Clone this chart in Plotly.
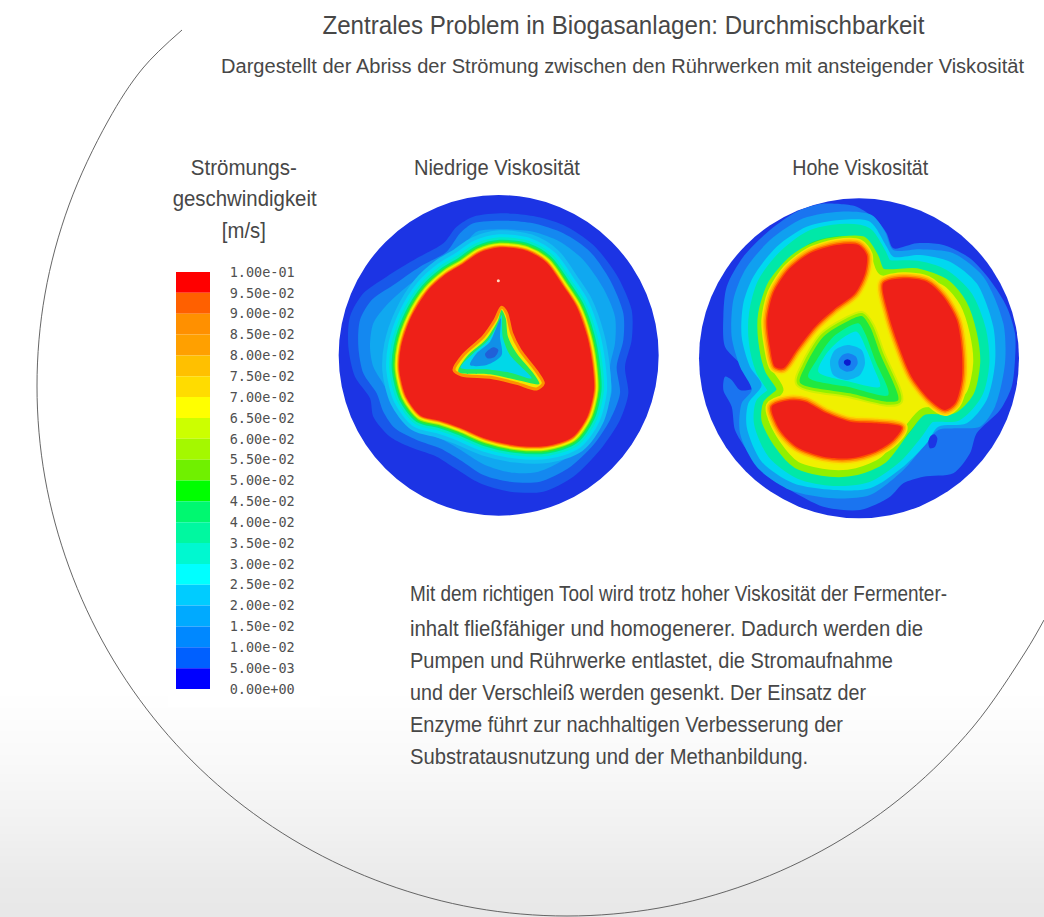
import json
import plotly.graph_objects as go

W, H = 1044, 917

# ---------- page texts ----------
TITLE = "Zentrales Problem in Biogasanlagen: Durchmischbarkeit"
SUBTITLE = "Dargestellt der Abriss der Strömung zwischen den Rührwerken mit ansteigender Viskosität"
HEAD_LOW = "Niedrige Viskosität"
HEAD_HIGH = "Hohe Viskosität"
LEGEND_HEAD = ["Strömungs-", "geschwindigkeit", "[m/s]"]
BODY = [
    "Mit dem richtigen Tool wird trotz hoher Viskosität der Fermenter-",
    "inhalt fließfähiger und homogenerer. Dadurch werden die",
    "Pumpen und Rührwerke entlastet, die Stromaufnahme",
    "und der Verschleiß werden gesenkt. Der Einsatz der",
    "Enzyme führt zur nachhaltigen Verbesserung der",
    "Substratausnutzung und der Methanbildung.",
]

# ---------- legend scale ----------
TICK_VALUES = [0.1 - 0.005 * i for i in range(21)]
TICK_LABELS = ["1.00e-01", "9.50e-02", "9.00e-02", "8.50e-02", "8.00e-02", "7.50e-02", "7.00e-02",
               "6.50e-02", "6.00e-02", "5.50e-02", "5.00e-02", "4.50e-02", "4.00e-02", "3.50e-02",
               "3.00e-02", "2.50e-02", "2.00e-02", "1.50e-02", "1.00e-02", "5.00e-03", "0.00e+00"]
BAND_BASE = [0.095, 0.09, 0.085, 0.08, 0.075, 0.07, 0.065, 0.06, 0.055, 0.05,
             0.045, 0.04, 0.035, 0.03, 0.025, 0.02, 0.015, 0.01, 0.005, 0.0]
BAND_COLORS = ["#ff0000", "#ff6000", "#ff9000", "#ffa000", "#ffc000", "#ffdc00", "#ffff00",
               "#ccff00", "#a4f800", "#70f000", "#00ff00", "#00f870", "#00f8a0", "#00f8d0",
               "#00ffff", "#00ccff", "#00aaff", "#0088ff", "#0060ff", "#0000ff"]

# ---------- page background ----------
GRAD_Y = [-50, 690, 760, 830, 880, 1000]
GRAD_V = [255, 255, 249, 241, 234, 226]
ARC_X = [182, 143, 108, 69, 45, 37, 45, 69, 108, 161, 226, 302, 386, 475, 567, 659, 748, 832, 908, 973, 1026, 1044]
ARC_Y = [30, 68, 121, 205, 294, 386, 478, 567, 651, 727, 792, 845, 884, 908, 916, 908, 884, 845, 792, 727, 651, 620]

# ---------- low viscosity contours ----------
L1 = [(430,80),(520,70),(610,78),(700,105),(790,165),(860,255),(905,360),(905,450),(885,530),(895,610),(870,690),(810,780),(730,860),(640,905),(540,905),(450,880),(375,835),(320,800),(250,775),(180,740),(130,680),(120,625),(75,560),(55,470),(60,380),(100,310),(170,260),(260,205),(340,160),(380,110)]
L2 = [(430,100),(520,92),(610,100),(700,130),(780,185),(840,270),(880,370),(880,450),(860,530),(870,610),(840,690),(790,765),(715,835),(630,875),(540,875),(460,855),(390,810),(330,775),(260,750),(195,715),(160,665),(140,610),(100,550),(85,470),(90,390),(125,330),(190,285),(270,230),(350,185),(390,130)]
L3 = [(440,125),(520,118),(610,125),(690,155),(760,210),(820,295),(855,380),(855,460),(840,530),(845,605),(820,680),(770,750),(700,810),(625,845),(545,848),(465,825),(400,785),(340,750),(275,725),(215,690),(185,640),(165,590),(130,530),(120,470),(130,400),(170,345),(230,290),(300,240),(370,200),(410,155)]
L_RED = [(510,172),(590,182),(650,218),(700,288),(740,350),(772,440),(787,520),(792,600),(772,680),(727,742),(650,768),(560,767),(470,747),(390,713),(330,692),(272,677),(228,620),(208,540),(213,470),(243,382),(293,302),(348,252),(398,222),(448,188)]
LT1 = [(515,352),(530,370),(545,430),(570,480),(620,545),(640,580),(620,597),(560,580),(480,562),(395,555),(372,540),(400,495),(460,440),(495,390)]
LT2 = [(515,360),(527,385),(534,440),(560,490),(610,550),(628,582),(560,570),(480,553),(385,545),(410,500),(468,448),(503,393)]
LT3 = [(515,375),(518,440),(540,495),(605,565),(540,548),(470,538),(392,533),(430,490),(475,450),(505,400)]
LT4 = [(512,385),(510,440),(515,495),(470,525),(420,525),(440,490),(480,455)]
LT5 = [(490,472),(505,480),(495,500),(472,505),(465,492)]
L_SPECK = [(505, 272)]

# ---------- high viscosity contours ----------
H1 = [(450,42),(500,50),(560,90),(590,130),(610,175),(680,160),(760,165),(840,205),(900,270),(950,350),(975,430),(975,510),(965,590),(930,660),(860,730),(840,790),(790,850),(700,860),(640,880),(600,920),(510,960),(400,950),(300,900),(220,850),(170,780),(135,720),(125,650),(100,600),(105,560),(125,570),(150,600),(190,595),(185,560),(150,520),(105,470),(100,380),(110,290),(160,200),(240,120),(320,65),(390,42)]
H2 = [(450,65),(545,75),(585,125),(610,180),(690,178),(790,190),(880,260),(940,400),(945,520),(915,650),(870,710),(800,715),(745,720),(700,770),(640,840),(540,915),(430,925),(300,900),(200,830),(150,730),(155,640),(185,600),(150,530),(125,440),(130,330),(165,240),(240,150),(340,85)]
H3 = [(450,90),(540,95),(590,170),(610,200),(690,195),(780,215),(860,280),(910,410),(915,520),(890,630),(830,700),(745,710),(710,760),(640,830),(540,895),(430,900),(310,880),(215,815),(170,710),(175,640),(215,585),(180,530),(155,440),(160,340),(190,260),(260,170),(350,110)]
H_G = [(450,120),(530,130),(570,190),(590,225),(680,230),(760,255),(830,320),(870,420),(880,520),(860,610),(800,675),(720,680),(680,730),(620,800),(530,860),(430,870),(330,850),(250,790),(210,700),(215,640),(250,605),(215,540),(195,460),(195,370),(220,280),(280,200),(360,140)]
H_Y = [(450,150),(520,150),(555,200),(575,245),(680,245),(770,280),(820,340),(850,430),(860,520),(840,610),(790,660),(700,665),(650,720),(580,810),(500,845),(420,850),(320,825),(260,760),(225,690),(230,640),(270,600),(235,540),(215,450),(215,370),(245,280),(310,205),(380,165)]
B1 = [(440,165),(505,165),(530,195),(525,250),(495,310),(430,360),(375,410),(320,480),(280,535),(255,530),(240,470),(232,390),(250,310),(295,240),(360,190)]
B2 = [(580,280),(640,265),(710,275),(760,320),(800,390),(815,480),(815,570),(795,640),(765,660),(720,630),(665,560),(620,450),(595,370)]
B3 = [(245,650),(290,632),(345,635),(410,670),(480,695),(560,700),(635,712),(610,750),(555,785),(480,805),(400,800),(320,770),(270,720)]
HT1 = [(515,378),(540,410),(570,490),(625,630),(590,635),(480,610),(330,578),(345,530),(400,440),(470,395)]
HT2 = [(505,400),(525,430),(555,510),(595,615),(480,592),(355,562),(380,510),(430,440)]
HT3 = [(500,425),(530,480),(550,530),(570,590),(480,575),(385,545),(410,490),(450,450)]
HT4 = [(473,465),(515,480),(525,520),(510,555),(470,570),(430,555),(420,515),(435,480)]
HT5 = [(473,490),(498,500),(503,520),(490,540),(470,545),(450,535),(445,515),(455,497)]
HT6 = [(472,508),(482,513),(480,525),(470,527),(462,520),(463,512)]
H_POCKET = [(733,733),(742,745),(735,770),(720,775),(715,755),(722,738)]

DISK_BLUE = "#1c34e4"
RED = "#ee2018"

fig = go.Figure()


def poly(points, fill, ax, stroke=None, width=0):
    xs = [p[0] for p in points] + [points[0][0]]
    ys = [p[1] for p in points] + [points[0][1]]
    fig.add_trace(go.Scatter(
        x=xs, y=ys, mode="lines", fill="toself", fillcolor=fill,
        line=dict(color=stroke or fill, width=width, shape="spline", smoothing=0.8),
        hoverinfo="skip", showlegend=False, xaxis="x" + ax, yaxis="y" + ax))


# background
fig.add_trace(go.Heatmap(x=[-100, 1144], y=GRAD_Y, z=[[v, v] for v in GRAD_V], zmin=0, zmax=255,
                         colorscale=[[0, "#000000"], [1, "#ffffff"]], zsmooth="best",
                         showscale=False, hoverinfo="skip"))
fig.add_trace(go.Scatter(x=ARC_X, y=ARC_Y, mode="lines", hoverinfo="skip", showlegend=False,
                         line=dict(color="#555555", width=0.9, shape="spline", smoothing=1.0)))
fig.add_trace(go.Scatter(x=[168, 320, 320, 168, 168], y=[260, 260, 707, 707, 260], mode="lines",
                         fill="toself", fillcolor="#ffffff", line=dict(width=0), hoverinfo="skip",
                         showlegend=False))

# low viscosity disk
poly(L1, "#1858ea", "2")
poly(L2, "#1488f0", "2")
poly(L3, "#10a8f0", "2")
for w, c in [(34, "#10c0f0"), (26, "#00dcf0"), (20, "#00e8c8"), (15, "#00e878"), (12, "#30e830"),
             (9, "#a8f000"), (7, "#f0f000"), (4, "#ffa800"), (2, "#ff6000")]:
    poly(L_RED, c, "2", stroke=c, width=w)
poly(L_RED, RED, "2")
poly(LT1, "#f0e800", "2", stroke="#ff9000", width=3)
poly(LT2, "#20e860", "2")
poly(LT3, "#00d8e8", "2")
poly(LT4, "#1090e8", "2")
poly(LT5, "#2060d8", "2")
fig.add_trace(go.Scatter(x=[p[0] for p in L_SPECK], y=[p[1] for p in L_SPECK], mode="markers",
                         marker=dict(color="#ffd8c0", size=3), hoverinfo="skip", showlegend=False,
                         xaxis="x2", yaxis="y2"))

# high viscosity disk
poly(H1, "#1a74f0", "3")
poly(H2, "#10a0f0", "3")
poly(H3, "#00d8f0", "3")
poly(H_G, "#20e840", "3", stroke="#00e8a8", width=12)
poly(H_Y, "#f0f000", "3", stroke="#90f000", width=7)
for blob in (B1, B2, B3):
    for w, c in [(12, "#f8e400"), (9, "#ffc000"), (6, "#ff9400"), (3, "#ff5000")]:
        poly(blob, c, "3", stroke=c, width=w)
for blob in (B1, B2, B3):
    poly(blob, RED, "3")
for w, c in [(10, "#d0f000"), (6, "#90f000")]:
    poly(HT1, c, "3", stroke=c, width=w)
poly(HT1, "#20e840", "3")
poly(HT2, "#00f0a0", "3")
poly(HT3, "#00e0f0", "3")
poly(HT4, "#10b0f0", "3")
poly(HT5, "#1880f0", "3")
poly(HT6, "#0a1ad0", "3")
poly(H_POCKET, DISK_BLUE, "3")

# legend scale
fig.add_trace(go.Bar(x=[0] * len(BAND_BASE), y=[0.005] * len(BAND_BASE), base=BAND_BASE, width=1,
                     marker=dict(color=BAND_COLORS, line=dict(width=0)), hoverinfo="skip",
                     showlegend=False, xaxis="x4", yaxis="y4"))


def hidden(**kw):
    return dict(visible=False, fixedrange=True, **kw)


def px_x(a, b):
    return [a / W, b / W]


def px_y(top, bottom):
    return [1 - bottom / H, 1 - top / H]


annotations = []
text_widths = []


def note(text, x, y, size, width, anchor="center"):
    annotations.append(dict(text=text, x=x / W, y=1 - y / H, xref="paper", yref="paper",
                            xanchor=anchor, yanchor="middle", align=anchor if anchor == "left" else "center",
                            showarrow=False,
                            font=dict(family="Liberation Sans", size=size, color="#474747")))
    text_widths.append(width)


note(TITLE, 624, 25, 26, 602)
note(SUBTITLE, 623, 66, 19.5, 803)
note(HEAD_LOW, 497, 167, 22, 166)
note(HEAD_HIGH, 860, 167, 22, 136)
for t, y, w in zip(LEGEND_HEAD, [167, 198, 230], [106, 144, 44]):
    note(t, 244, y, 22, w)
for t, y, w in zip(BODY, [594, 629, 661, 693, 725, 757], [537, 513, 483, 456, 433, 398]):
    note(t, 408, y, 21.5, w, anchor="left")

fig.update_layout(
    width=W, height=H, margin=dict(l=0, r=0, t=0, b=0, autoexpand=False), paper_bgcolor="white",
    plot_bgcolor="rgba(0,0,0,0)", showlegend=False, annotations=annotations,
    xaxis=hidden(domain=[0, 1], range=[0, W]),
    yaxis=hidden(domain=[0, 1], range=[H, 0]),
    xaxis2=hidden(domain=px_x(330, 670), range=[0, 1020], anchor="y2"),
    yaxis2=hidden(domain=px_y(190, 525), range=[1005, 0], anchor="x2"),
    xaxis3=hidden(domain=px_x(690, 1030), range=[0, 1020], anchor="y3"),
    yaxis3=hidden(domain=px_y(190, 525), range=[1005, 0], anchor="x3"),
    xaxis4=hidden(domain=px_x(176, 210), range=[-0.5, 0.5], anchor="y4"),
    yaxis4=dict(domain=px_y(272, 689), range=[0, 0.1], anchor="x4", side="right", fixedrange=True,
                tickmode="array", tickvals=TICK_VALUES, ticktext=TICK_LABELS, showgrid=False,
                zeroline=False, showline=False, ticks="outside", ticklen=16, tickcolor="rgba(0,0,0,0)",
                tickfont=dict(family="DejaVu Sans Mono", size=13.5, color="#505050")),
    shapes=[
        dict(type="circle", xref="x2", yref="y2", x0=26, x1=986, y0=15, y1=977, layer="below",
             fillcolor=DISK_BLUE, line=dict(width=0)),
        dict(type="circle", xref="x3", yref="y3", x0=27, x1=987, y0=25, y1=985, layer="below",
             fillcolor=DISK_BLUE, line=dict(width=0)),
    ],
)

POST = """
document.body.style.margin='0';document.body.style.overflow='hidden';
var widths=%s;
document.querySelectorAll('.annotation-text').forEach(function(el,i){
  el.setAttribute('lengthAdjust','spacingAndGlyphs');
  el.setAttribute('textLength',widths[i]);
});
""" % json.dumps(text_widths)

fig.write_html("out.html", config={"displayModeBar": False}, post_script=POST)
